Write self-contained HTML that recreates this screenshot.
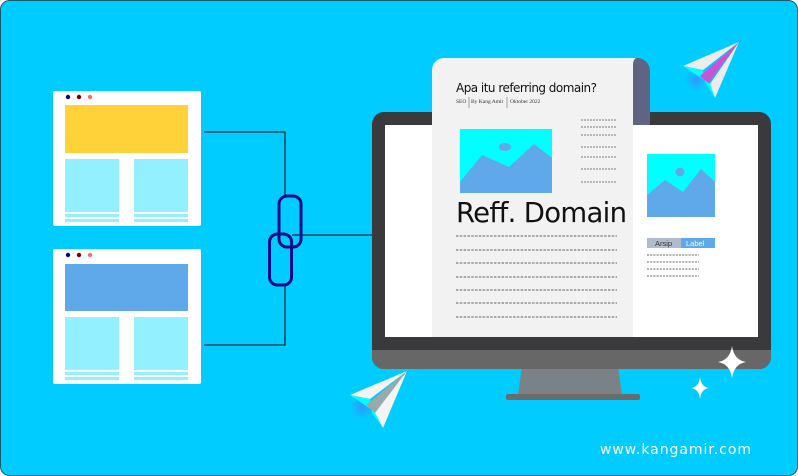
<!DOCTYPE html>
<html><head><style>body{margin:0;background:#fff}svg{display:block}</style></head>
<body>
<svg width="798" height="476" viewBox="0 0 798 476" xmlns="http://www.w3.org/2000/svg" font-family="Liberation Sans, sans-serif">
<defs><radialGradient id="g"><stop offset="0" stop-color="#3b8cff" stop-opacity=".8"/><stop offset="1" stop-color="#3b8cff" stop-opacity="0"/></radialGradient></defs>
<rect x="0.5" y="0.5" width="797" height="475" rx="9" fill="#00CCFF" stroke="#1a5a70"/>
<g>
<rect x="53" y="91" width="148" height="135" rx="2" fill="#fff"/>
<circle cx="68" cy="97" r="2.2" fill="#0a0a80"/><circle cx="79" cy="97" r="2.2" fill="#7a0000"/><circle cx="90" cy="97" r="2.2" fill="#ff6a6a"/>
<rect x="65" y="105" width="123" height="48" fill="#FFD23A"/>
<rect x="65" y="159" width="54" height="53" fill="#93F1FF"/><rect x="134" y="159" width="54" height="53" fill="#93F1FF"/>
<rect x="65" y="214" width="54" height="3" fill="#93F1FF"/><rect x="134" y="214" width="54" height="3" fill="#93F1FF"/>
<rect x="65" y="219" width="54" height="3" fill="#93F1FF"/><rect x="134" y="219" width="54" height="3" fill="#93F1FF"/>
</g>
<g>
<rect x="53" y="249" width="148" height="135" rx="2" fill="#fff"/>
<circle cx="68" cy="255" r="2.2" fill="#0a0a80"/><circle cx="79" cy="255" r="2.2" fill="#7a0000"/><circle cx="90" cy="255" r="2.2" fill="#ff6a6a"/>
<rect x="65" y="264" width="123" height="47" fill="#5FA8EA"/>
<rect x="65" y="317" width="54" height="53" fill="#93F1FF"/><rect x="134" y="317" width="54" height="53" fill="#93F1FF"/>
<rect x="65" y="372" width="54" height="3" fill="#93F1FF"/><rect x="134" y="372" width="54" height="3" fill="#93F1FF"/>
<rect x="65" y="377" width="54" height="3" fill="#93F1FF"/><rect x="134" y="377" width="54" height="3" fill="#93F1FF"/>
</g>
<g fill="none" stroke="#0a2a40" stroke-width="1.3">
<polyline points="204,132 285,132 285,197"/>
<polyline points="292,235 373,235"/>
<polyline points="285,285 285,345 204,345"/>
</g>
<rect x="279" y="196" width="22" height="51" rx="8" fill="none" stroke="#0a0a8a" stroke-width="3"/>
<rect x="269.5" y="234" width="22" height="51" rx="8" fill="none" stroke="#0a0a8a" stroke-width="3"/>
<polygon points="522,366 618,366 622,395 518,395" fill="#7a8288"/>
<rect x="506" y="394" width="134" height="6" rx="2" fill="#6b6b6b"/>
<rect x="372" y="112" width="399" height="257" rx="12" fill="#3a3a3c"/>
<path d="M372 350 H771 V357 a12 12 0 0 1 -12 12 H384 a12 12 0 0 1 -12 -12 Z" fill="#676767"/>
<rect x="385" y="125" width="373" height="212" fill="#fff"/>
<path d="M633 58 H637 a13 13 0 0 1 13 13 V125 H633 Z" fill="#5e6482"/>
<path d="M432 70 a12 12 0 0 1 12 -12 H636 a8 8 0 0 0 -3 6 V337 H432 Z" fill="#f2f2f2"/>
<text x="456" y="92" font-size="12" fill="#111" font-family="DejaVu Sans, sans-serif" textLength="141">Apa itu referring domain?</text>
<text x="456" y="103" font-size="5.5" font-family="Liberation Serif, serif" fill="#333">SEO</text>
<line x1="469" y1="97" x2="469" y2="108" stroke="#666" stroke-width=".6"/>
<text x="471" y="103" font-size="5.5" font-family="Liberation Serif, serif" fill="#333">By Kang Amir</text>
<line x1="507" y1="97" x2="507" y2="108" stroke="#666" stroke-width=".6"/>
<text x="510" y="103" font-size="5.5" font-family="Liberation Serif, serif" fill="#333">Oktober 2022</text>
<rect x="460" y="129" width="92" height="64" fill="#00FFFF"/>
<polygon points="460,182 460,193 552,193 552,158 534,144 509,167 482,155" fill="#5FA8EA"/>
<ellipse cx="505" cy="147" rx="6" ry="4" fill="#5FA8EA"/>
<g stroke="#555" stroke-width=".8" stroke-dasharray="2,1">
<line x1="581" y1="120" x2="617" y2="120"/><line x1="581" y1="127" x2="617" y2="127"/><line x1="581" y1="135" x2="617" y2="135"/><line x1="581" y1="147" x2="617" y2="147"/><line x1="581" y1="157" x2="617" y2="157"/><line x1="581" y1="169" x2="617" y2="169"/><line x1="581" y1="182" x2="617" y2="182"/>
</g>
<text x="456" y="222" font-size="27.5" fill="#111" font-family="DejaVu Sans, sans-serif" textLength="171">Reff. Domain</text>
<g stroke="#333" stroke-width=".8" stroke-dasharray="2.5,1.3">
<line x1="456" y1="236" x2="617" y2="236"/><line x1="456" y1="250" x2="617" y2="250"/><line x1="456" y1="263" x2="617" y2="263"/><line x1="456" y1="277" x2="617" y2="277"/><line x1="456" y1="290" x2="617" y2="290"/><line x1="456" y1="303" x2="617" y2="303"/><line x1="456" y1="317" x2="617" y2="317"/>
</g>
<rect x="647" y="154" width="68" height="63" fill="#00FFFF"/>
<polygon points="647,195 647,217 715,217 715,182 701,169 683,192 665,180" fill="#5FA8EA"/>
<circle cx="680" cy="172" r="4.5" fill="#5FA8EA"/>
<rect x="647" y="238" width="34" height="10" fill="#b0bccb"/>
<rect x="681" y="238" width="34" height="10" fill="#5FA8EA"/>
<text x="655" y="246" font-size="7.5" fill="#333">Arsip</text>
<text x="686" y="246" font-size="7.5" fill="#fff">Label</text>
<g stroke="#333" stroke-width=".8" stroke-dasharray="2,1.2">
<line x1="647" y1="255" x2="699" y2="255"/><line x1="647" y1="262" x2="699" y2="262"/><line x1="647" y1="269" x2="699" y2="269"/><line x1="647" y1="276" x2="699" y2="276"/>
</g>
<circle cx="362" cy="407" r="12" fill="url(#g)"/>
<polygon points="407,371 350,395 370,399" fill="#f4f4f4"/>
<polygon points="350,395 370,399 372,410" fill="#00FFFF"/>
<polygon points="407,371 366,405 375,413" fill="#9aa"/>
<polygon points="407,371 375,413 383,428" fill="#f4f4f4"/>
<polygon points="372,410 375,413 383,428 372,413" fill="#00FFFF"/>
<circle cx="696" cy="80" r="11" fill="url(#g)"/>
<polygon points="739,42 683,66 703,70" fill="#ececec"/>
<polygon points="683,66 703,70 704,80" fill="#00FFFF"/>
<polygon points="739,42 700,76 708,84" fill="#c855d8"/>
<polygon points="739,42 710,84 715,98" fill="#ececec"/>
<polygon points="704,80 710,84 715,98" fill="#00FFFF"/>
<path d="M732 346 Q734 360 746 362 Q734 364 732 378 Q730 364 718 362 Q730 360 732 346Z" fill="#fff"/>
<path d="M700 377 Q701 387 709 388 Q701 389 700 399 Q699 389 691 388 Q699 387 700 377Z" fill="#fff"/>
<text x="600" y="454" font-size="14" fill="#fff" font-family="DejaVu Sans, sans-serif" textLength="151">www.kangamir.com</text>
</svg>
</body></html>
